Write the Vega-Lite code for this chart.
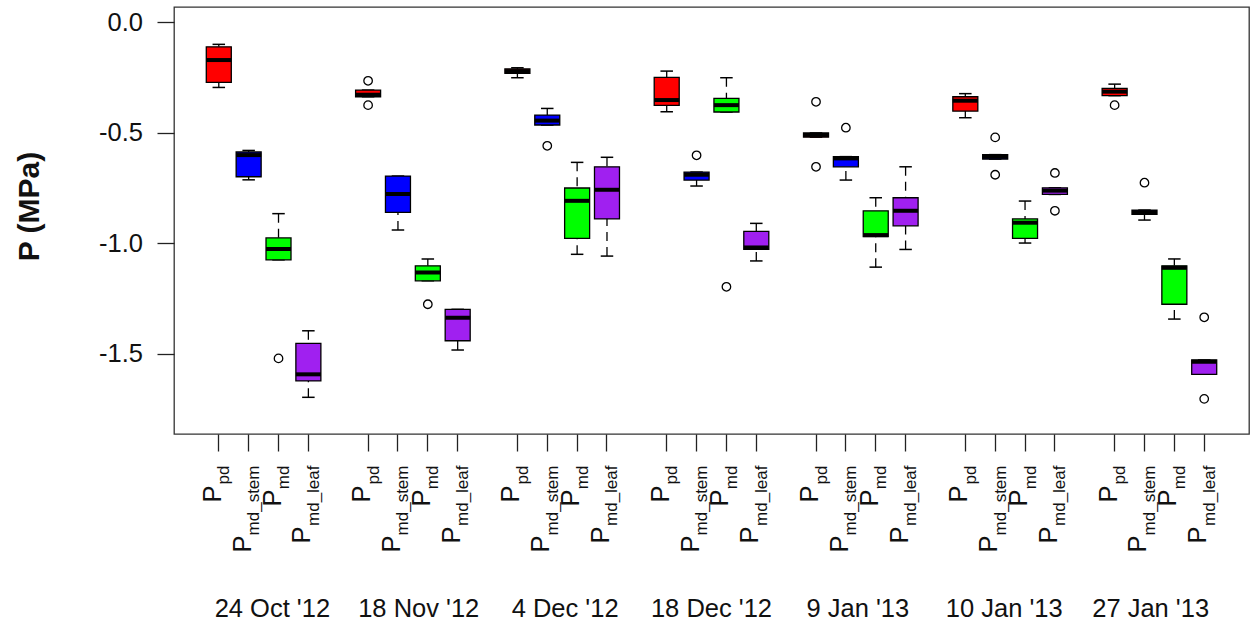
{
  "$schema": "https://vega.github.io/schema/vega-lite/v6.json",
  "width": 1075,
  "height": 427,
  "autosize": {"type": "none"},
  "padding": {"left": 174, "top": 7, "right": 4, "bottom": 190},
  "background": "white",
  "config": {
    "view": {"stroke": "#333333", "strokeWidth": 1.3},
    "font": "Liberation Sans",
    "axis": {"labelFont": "Liberation Sans", "titleFont": "Liberation Sans", "labelColor": "#111111", "titleColor": "#111111", "tickColor": "#222222", "tickWidth": 1.3, "domain": false, "grid": false}
  },
  "datasets": {
    "boxes": [
      {"date": "24 Oct '12", "var": "pd", "box": "24 Oct '12|pd", "lower": -0.296, "q1": -0.273, "median": -0.172, "q3": -0.112, "upper": -0.101},
      {"date": "24 Oct '12", "var": "md_stem", "box": "24 Oct '12|md_stem", "lower": -0.714, "q1": -0.700, "median": -0.602, "q3": -0.588, "upper": -0.581},
      {"date": "24 Oct '12", "var": "md", "box": "24 Oct '12|md", "lower": -1.076, "q1": -1.076, "median": -1.027, "q3": -0.977, "upper": -0.867},
      {"date": "24 Oct '12", "var": "md_leaf", "box": "24 Oct '12|md_leaf", "lower": -1.698, "q1": -1.624, "median": -1.594, "q3": -1.454, "upper": -1.397},
      {"date": "18 Nov '12", "var": "pd", "box": "18 Nov '12|pd", "lower": -0.338, "q1": -0.338, "median": -0.329, "q3": -0.308, "upper": -0.308},
      {"date": "18 Nov '12", "var": "md_stem", "box": "18 Nov '12|md_stem", "lower": -0.941, "q1": -0.861, "median": -0.778, "q3": -0.697, "upper": -0.697},
      {"date": "18 Nov '12", "var": "md", "box": "18 Nov '12|md", "lower": -1.171, "q1": -1.171, "median": -1.133, "q3": -1.103, "upper": -1.072},
      {"date": "18 Nov '12", "var": "md_leaf", "box": "18 Nov '12|md_leaf", "lower": -1.484, "q1": -1.442, "median": -1.338, "q3": -1.300, "upper": -1.300},
      {"date": "4 Dec '12", "var": "pd", "box": "4 Dec '12|pd", "lower": -0.252, "q1": -0.232, "median": -0.222, "q3": -0.212, "upper": -0.207},
      {"date": "4 Dec '12", "var": "md_stem", "box": "4 Dec '12|md_stem", "lower": -0.466, "q1": -0.466, "median": -0.446, "q3": -0.421, "upper": -0.391},
      {"date": "4 Dec '12", "var": "md", "box": "4 Dec '12|md", "lower": -1.051, "q1": -0.979, "median": -0.809, "q3": -0.751, "upper": -0.635},
      {"date": "4 Dec '12", "var": "md_leaf", "box": "4 Dec '12|md_leaf", "lower": -1.059, "q1": -0.891, "median": -0.759, "q3": -0.655, "upper": -0.612},
      {"date": "18 Dec '12", "var": "pd", "box": "18 Dec '12|pd", "lower": -0.406, "q1": -0.377, "median": -0.353, "q3": -0.250, "upper": -0.222},
      {"date": "18 Dec '12", "var": "md_stem", "box": "18 Dec '12|md_stem", "lower": -0.742, "q1": -0.715, "median": -0.691, "q3": -0.679, "upper": -0.679},
      {"date": "18 Dec '12", "var": "md", "box": "18 Dec '12|md", "lower": -0.407, "q1": -0.407, "median": -0.376, "q3": -0.345, "upper": -0.252},
      {"date": "18 Dec '12", "var": "md_leaf", "box": "18 Dec '12|md_leaf", "lower": -1.081, "q1": -1.029, "median": -1.020, "q3": -0.947, "upper": -0.911},
      {"date": "9 Jan '13", "var": "pd", "box": "9 Jan '13|pd", "lower": -0.521, "q1": -0.521, "median": -0.511, "q3": -0.502, "upper": -0.502},
      {"date": "9 Jan '13", "var": "md_stem", "box": "9 Jan '13|md_stem", "lower": -0.715, "q1": -0.655, "median": -0.617, "q3": -0.609, "upper": -0.609},
      {"date": "9 Jan '13", "var": "md", "box": "9 Jan '13|md", "lower": -1.109, "q1": -0.971, "median": -0.964, "q3": -0.854, "upper": -0.795},
      {"date": "9 Jan '13", "var": "md_leaf", "box": "9 Jan '13|md_leaf", "lower": -1.029, "q1": -0.922, "median": -0.854, "q3": -0.795, "upper": -0.655},
      {"date": "10 Jan '13", "var": "pd", "box": "10 Jan '13|pd", "lower": -0.433, "q1": -0.403, "median": -0.356, "q3": -0.338, "upper": -0.324},
      {"date": "10 Jan '13", "var": "md_stem", "box": "10 Jan '13|md_stem", "lower": -0.620, "q1": -0.620, "median": -0.610, "q3": -0.600, "upper": -0.600},
      {"date": "10 Jan '13", "var": "md", "box": "10 Jan '13|md", "lower": -1.000, "q1": -0.979, "median": -0.908, "q3": -0.891, "upper": -0.810},
      {"date": "10 Jan '13", "var": "md_leaf", "box": "10 Jan '13|md_leaf", "lower": -0.780, "q1": -0.780, "median": -0.763, "q3": -0.750, "upper": -0.750},
      {"date": "27 Jan '13", "var": "pd", "box": "27 Jan '13|pd", "lower": -0.333, "q1": -0.333, "median": -0.315, "q3": -0.300, "upper": -0.281},
      {"date": "27 Jan '13", "var": "md_stem", "box": "27 Jan '13|md_stem", "lower": -0.896, "q1": -0.870, "median": -0.860, "q3": -0.851, "upper": -0.851},
      {"date": "27 Jan '13", "var": "md", "box": "27 Jan '13|md", "lower": -1.344, "q1": -1.277, "median": -1.112, "q3": -1.103, "upper": -1.072},
      {"date": "27 Jan '13", "var": "md_leaf", "box": "27 Jan '13|md_leaf", "lower": -1.594, "q1": -1.594, "median": -1.537, "q3": -1.529, "upper": -1.529}
    ],
    "outliers": [
      {"box": "24 Oct '12|md", "value": -1.522},
      {"box": "18 Nov '12|pd", "value": -0.266},
      {"box": "18 Nov '12|pd", "value": -0.376},
      {"box": "18 Nov '12|md", "value": -1.277},
      {"box": "4 Dec '12|md_stem", "value": -0.560},
      {"box": "18 Dec '12|md_stem", "value": -0.603},
      {"box": "18 Dec '12|md", "value": -1.198},
      {"box": "9 Jan '13|pd", "value": -0.361},
      {"box": "9 Jan '13|pd", "value": -0.655},
      {"box": "9 Jan '13|md_stem", "value": -0.478},
      {"box": "10 Jan '13|md_stem", "value": -0.522},
      {"box": "10 Jan '13|md_stem", "value": -0.691},
      {"box": "10 Jan '13|md_leaf", "value": -0.683},
      {"box": "10 Jan '13|md_leaf", "value": -0.854},
      {"box": "27 Jan '13|pd", "value": -0.376},
      {"box": "27 Jan '13|md_stem", "value": -0.727},
      {"box": "27 Jan '13|md_leaf", "value": -1.336},
      {"box": "27 Jan '13|md_leaf", "value": -1.705}
    ]
  },
  "resolve": {"scale": {"x": "independent"}},
  "layer": [
    {
      "data": {"name": "boxes"},
      "encoding": {
        "x": {
          "field": "box", "type": "nominal",
          "scale": {"type": "band", "paddingInner": 0, "paddingOuter": 1.36,
            "domain": ["24 Oct '12|pd", "24 Oct '12|md_stem", "24 Oct '12|md", "24 Oct '12|md_leaf", "gap1",
                       "18 Nov '12|pd", "18 Nov '12|md_stem", "18 Nov '12|md", "18 Nov '12|md_leaf", "gap2",
                       "4 Dec '12|pd", "4 Dec '12|md_stem", "4 Dec '12|md", "4 Dec '12|md_leaf", "gap3",
                       "18 Dec '12|pd", "18 Dec '12|md_stem", "18 Dec '12|md", "18 Dec '12|md_leaf", "gap4",
                       "9 Jan '13|pd", "9 Jan '13|md_stem", "9 Jan '13|md", "9 Jan '13|md_leaf", "gap5",
                       "10 Jan '13|pd", "10 Jan '13|md_stem", "10 Jan '13|md", "10 Jan '13|md_leaf", "gap6",
                       "27 Jan '13|pd", "27 Jan '13|md_stem", "27 Jan '13|md", "27 Jan '13|md_leaf"]},
          "axis": {
            "orient": "bottom", "title": null, "bandPosition": 0.5,
            "values": ["24 Oct '12|pd", "24 Oct '12|md_stem", "24 Oct '12|md", "24 Oct '12|md_leaf",
                       "18 Nov '12|pd", "18 Nov '12|md_stem", "18 Nov '12|md", "18 Nov '12|md_leaf",
                       "4 Dec '12|pd", "4 Dec '12|md_stem", "4 Dec '12|md", "4 Dec '12|md_leaf",
                       "18 Dec '12|pd", "18 Dec '12|md_stem", "18 Dec '12|md", "18 Dec '12|md_leaf",
                       "9 Jan '13|pd", "9 Jan '13|md_stem", "9 Jan '13|md", "9 Jan '13|md_leaf",
                       "10 Jan '13|pd", "10 Jan '13|md_stem", "10 Jan '13|md", "10 Jan '13|md_leaf",
                       "27 Jan '13|pd", "27 Jan '13|md_stem", "27 Jan '13|md", "27 Jan '13|md_leaf"],
            "labelExpr": "split(datum.value, '|')[1]",
            "ticks": true, "tickSize": 17,
            "labelAngle": 270, "labelAlign": "right", "labelBaseline": "middle",
            "labelPadding": 14, "labelOffset": 5.5, "labelFontSize": 17,
            "labelOverlap": false, "labelBound": false, "labelFlush": false, "labelLimit": 0
          }
        }
      },
      "layer": [
        {
          "mark": {"type": "rule", "color": "black", "strokeWidth": 1.3, "strokeDash": [9, 6]},
          "encoding": {
            "y": {"field": "upper", "type": "quantitative",
              "scale": {"domain": [-1.864, 0.068], "nice": false, "zero": false},
              "axis": {
                "values": [0, -0.5, -1, -1.5],
                "labelExpr": "datum.value == 0 ? '0.0' : '-' + format(-datum.value, '.1f')",
                "tickSize": 17, "labelPadding": 14.5, "labelFontSize": 25.5, "labelAngle": 0,
                "labelAlign": "right", "labelBaseline": "middle",
                "title": "P (MPa)", "titleFontSize": 30, "titleFontWeight": "bold",
                "titleAngle": 270, "titleX": -145, "titleY": 199, "titleAlign": "center", "titleBaseline": "middle"
              }},
            "y2": {"field": "q3"}
          }
        },
        {
          "mark": {"type": "rule", "color": "black", "strokeWidth": 1.3, "strokeDash": [9, 6]},
          "encoding": {
            "y": {"field": "lower", "type": "quantitative"},
            "y2": {"field": "q1"}
          }
        },
        {
          "mark": {"type": "tick", "orient": "horizontal", "color": "black", "size": 12.5, "thickness": 1.5, "opacity": 1},
          "encoding": {"y": {"field": "upper", "type": "quantitative"}}
        },
        {
          "mark": {"type": "tick", "orient": "horizontal", "color": "black", "size": 12.5, "thickness": 1.5, "opacity": 1},
          "encoding": {"y": {"field": "lower", "type": "quantitative"}}
        },
        {
          "mark": {"type": "bar", "size": 25, "stroke": "black", "strokeWidth": 1.3, "opacity": 1},
          "encoding": {
            "y": {"field": "q3", "type": "quantitative"},
            "y2": {"field": "q1"},
            "fill": {"field": "var", "type": "nominal", "legend": null,
              "scale": {"domain": ["pd", "md_stem", "md", "md_leaf"], "range": ["#FF0000", "#0000FF", "#00FF00", "#A020F0"]}}
          }
        },
        {
          "mark": {"type": "tick", "orient": "horizontal", "color": "black", "size": 25, "thickness": 4, "opacity": 1},
          "encoding": {"y": {"field": "median", "type": "quantitative"}}
        },
        {
          "data": {"name": "outliers"},
          "mark": {"type": "point", "shape": "circle", "filled": false, "stroke": "black", "strokeWidth": 1.3, "size": 72, "opacity": 1},
          "encoding": {"y": {"field": "value", "type": "quantitative"}}
        }
      ]
    },
    {
      "data": {"name": "boxes"},
      "mark": {"type": "point", "opacity": 0},
      "encoding": {
        "x": {
          "field": "box", "type": "nominal",
          "scale": {"type": "band", "paddingInner": 0, "paddingOuter": 1.36,
            "domain": ["24 Oct '12|pd", "24 Oct '12|md_stem", "24 Oct '12|md", "24 Oct '12|md_leaf", "gap1",
                       "18 Nov '12|pd", "18 Nov '12|md_stem", "18 Nov '12|md", "18 Nov '12|md_leaf", "gap2",
                       "4 Dec '12|pd", "4 Dec '12|md_stem", "4 Dec '12|md", "4 Dec '12|md_leaf", "gap3",
                       "18 Dec '12|pd", "18 Dec '12|md_stem", "18 Dec '12|md", "18 Dec '12|md_leaf", "gap4",
                       "9 Jan '13|pd", "9 Jan '13|md_stem", "9 Jan '13|md", "9 Jan '13|md_leaf", "gap5",
                       "10 Jan '13|pd", "10 Jan '13|md_stem", "10 Jan '13|md", "10 Jan '13|md_leaf", "gap6",
                       "27 Jan '13|pd", "27 Jan '13|md_stem", "27 Jan '13|md", "27 Jan '13|md_leaf"]},
          "axis": {
            "orient": "bottom", "title": null, "bandPosition": 0.5,
            "values": ["24 Oct '12|pd", "24 Oct '12|md_stem", "24 Oct '12|md", "24 Oct '12|md_leaf",
                       "18 Nov '12|pd", "18 Nov '12|md_stem", "18 Nov '12|md", "18 Nov '12|md_leaf",
                       "4 Dec '12|pd", "4 Dec '12|md_stem", "4 Dec '12|md", "4 Dec '12|md_leaf",
                       "18 Dec '12|pd", "18 Dec '12|md_stem", "18 Dec '12|md", "18 Dec '12|md_leaf",
                       "9 Jan '13|pd", "9 Jan '13|md_stem", "9 Jan '13|md", "9 Jan '13|md_leaf",
                       "10 Jan '13|pd", "10 Jan '13|md_stem", "10 Jan '13|md", "10 Jan '13|md_leaf",
                       "27 Jan '13|pd", "27 Jan '13|md_stem", "27 Jan '13|md", "27 Jan '13|md_leaf"],
            "labelExpr": "'P'",
            "ticks": true, "tickSize": 17, "tickOpacity": 0,
            "labelAngle": 270, "labelAlign": "right", "labelBaseline": "middle",
            "labelPadding": {"condition": [
              {"test": "indexof(datum.value, '|md_stem') >= 0", "value": 84},
              {"test": "indexof(datum.value, '|md_leaf') >= 0", "value": 75},
              {"test": "indexof(datum.value, '|md') >= 0", "value": 38}
            ], "value": 34},
            "labelOffset": -6, "labelFontSize": 25.5,
            "labelOverlap": false, "labelBound": false, "labelFlush": false, "labelLimit": 0
          }
        }
      }
    },
    {
      "data": {"name": "boxes"},
      "mark": {"type": "point", "opacity": 0},
      "encoding": {
        "x": {
          "field": "date", "type": "nominal",
          "scale": {"type": "band", "paddingInner": 0, "paddingOuter": 0.172,
            "domain": ["24 Oct '12", "18 Nov '12", "4 Dec '12", "18 Dec '12", "9 Jan '13", "10 Jan '13", "27 Jan '13"]},
          "axis": {
            "orient": "bottom", "title": null, "bandPosition": 0.5,
            "ticks": true, "tickSize": 17, "tickOpacity": 0,
            "labelAngle": 0, "labelAlign": "center", "labelBaseline": "alphabetic",
            "labelPadding": 165.5, "labelFontSize": 25.5,
            "labelOverlap": false, "labelBound": false, "labelFlush": false, "labelLimit": 0
          }
        }
      }
    }
  ]
}
